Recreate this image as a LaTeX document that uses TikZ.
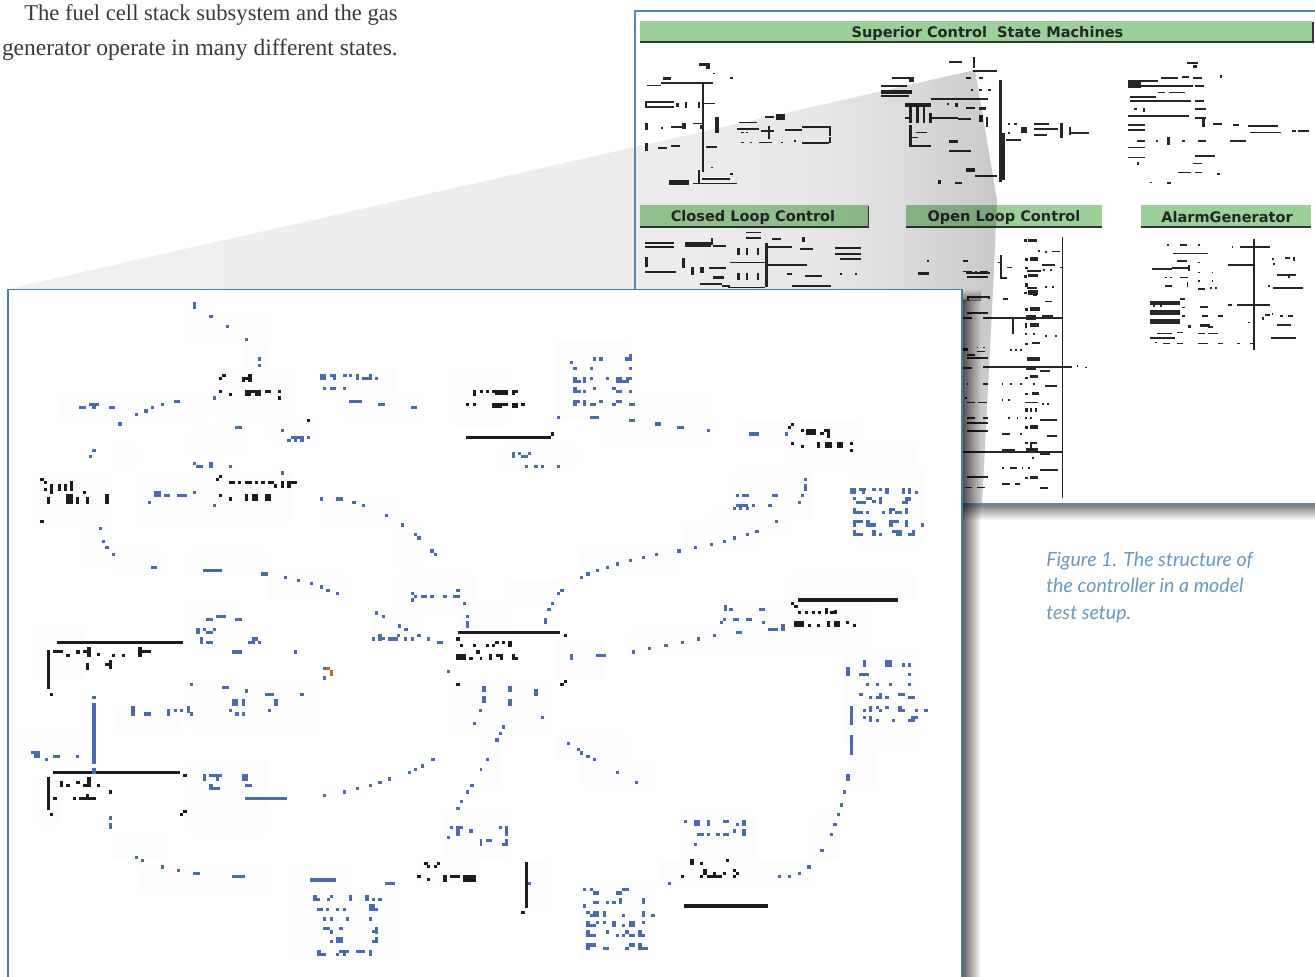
\documentclass[tikz,border=0pt]{standalone}
\usepackage{fontspec}
\setmainfont{Liberation Serif}
\newfontfamily\capfont{Lato}
\newfontfamily\headfont{DejaVu Sans}
\usetikzlibrary{positioning}
\definecolor{bluepix}{HTML}{4A6BAD}
\definecolor{inkpix}{HTML}{1C1C20}
\definecolor{backink}{HTML}{26262A}
\definecolor{panelline}{HTML}{5B88A8}
\definecolor{frontline}{HTML}{4A7E9E}
\definecolor{barfill}{HTML}{9DCF99}
\definecolor{barline}{HTML}{2E3A30}
\definecolor{capblue}{HTML}{6A98C2}
\definecolor{bodyink}{HTML}{3A3A3C}
\definecolor{noisefill}{HTML}{FCFDFC}
\definecolor{orangepix}{HTML}{C06A20}
\pgfdeclarehorizontalshading{wedgeshade}{100bp}{color(0bp)=(white!94!black); color(25bp)=(white!94!black); color(60bp)=(white!92.5!black); color(66bp)=(white!90.5!black); color(70bp)=(white!86.5!black); color(75bp)=(white!78.5!black); color(100bp)=(white!78.5!black)}
\newcommand{\rects}[4]{\begin{scope}[shift={(#2,#3)},x=.25pt,y=-.25pt]\foreach \a/\b/\c/\d in {#4}{\fill[#1] (\a,\b) rectangle ++(\c,\d);}\end{scope}}
\newcommand{\wideRects}[4]{\begin{scope}[shift={(#2,#3)},x=.3275pt,y=-.25pt]\foreach \a/\b/\c/\d in {#4}{\fill[#1] (\a,\b) rectangle ++(\c,\d);}\end{scope}}
\tikzset{
 bodytext/.style={text=bodyink,inner sep=0pt,anchor=base east},
 captext/.style={font=\capfont\itshape\fontsize{14.7pt}{18pt}\selectfont,text=capblue,inner sep=0pt,anchor=base west},
 headtext/.style={font=\headfont\bfseries\fontsize{10.9pt}{12pt}\selectfont,text=black!85,inner sep=0pt},
 greenbar/.style={fill=barfill,draw=none}
}
\begin{document}
\begin{tikzpicture}[x=.75pt,y=-.75pt]
\useasboundingbox (0,0) rectangle (1315,976);
\fill[white] (0,0) rectangle (1315,976);
\node[bodytext,font=\fontsize{16.95pt}{18pt}\selectfont] (introa) at (398,20) {The fuel cell stack subsystem and the gas};
\node[bodytext,font=\fontsize{17.6pt}{18pt}\selectfont] (introb) at (398,55) {generator operate in many different states.};
% back panel
\fill[white] (635,11) rectangle (1316,503);
% green bars
\fill[greenbar] (640,21) rectangle (1312,42);
\fill[barline] (640,41) rectangle (1313,43);
\fill[barline] (1312,22) rectangle (1313.5,43);
\fill[greenbar] (640,205) rectangle (868,227);
\fill[barline] (640,226) rectangle (869,228);
\fill[barline] (867.5,206) rectangle (869,228);
\fill[greenbar] (906,205) rectangle (1102,227);
\fill[barline] (906,226) rectangle (1102,228);
\fill[greenbar] (1141,205) rectangle (1311,227);
\fill[barline] (1141,226) rectangle (1311,228);
\node[headtext] (htop) at (987.5,33) {Superior Control\ \ State Machines};
\node[headtext] (hclosed) at (753,217) {Closed Loop Control};
\node[headtext] (hopen) at (1004,217) {Open Loop Control};
\node[headtext] (halarm) at (1227,217) {AlarmGenerator};
% back diagrams, from the upper view
\wideRects{backink}{630}{0}{158/190/25/8,175/198/8/8,190/218/5/5,230/232/6/6,75/232/20/8,40/255/30/4,70/247/120/4,165/250/5/265,
35/303/65/5,35/318/65/6,35/303/5/20,105/310/8/12,125/305/5/18,155/305/5/18,170/308/25/5,
35/368/6/22,70/380/6/6,95/378/25/6,120/368/8/20,145/368/20/5,160/375/8/12,195/350/8/50,
250/365/40/5,245/385/50/5,310/348/20/5,335/342/20/18,315/378/5/40,300/390/30/5,
355/388/40/4,395/378/65/6,455/378/6/30,255/395/5/5,265/395/5/5,
255/425/5/5,275/425/5/5,295/425/30/5,345/425/5/5,375/420/5/5,395/425/60/6,455/410/5/20,
35/430/6/22,65/440/20/6,95/435/20/6,175/438/25/5,
155/510/6/40,165/535/65/5,145/548/100/5,90/540/45/15,185/500/5/5,230/520/5/5,
730/183/30/5,785/170/6/35,785/210/55/5,600/232/50/5,640/235/10/10,575/255/60/5,575/270/70/12,575/285/65/5,690/295/90/6,780/295/40/5,
630/310/60/12,640/320/6/50,655/320/6/50,670/320/6/50,685/340/6/30,630/350/12/6,690/350/60/6,
770/230/10/8,800/232/8/5,780/268/6/5,800/268/6/5,820/268/6/5,
725/310/5/5,745/310/5/12,770/322/20/5,800/322/15/8,
750/355/30/6,800/345/8/20,815/350/5/30,
845/240/6/305,850/400/8/140,860/418/35/6,
640/375/6/60,655/395/25/5,640/410/20/5,640/435/50/5,
730/420/20/10,730/450/50/6,
770/505/20/10,790/525/50/6,
865/368/6/6,880/368/6/6,865/395/6/6,895/380/15/20,925/370/35/6,925/385/55/6,925/403/30/5,985/368/6/45,1005/380/6/25,1005/395/45/6,
705/540/8/12,745/545/15/6,
1275/185/25/8,1290/195/8/8,1350/225/5/8,1215/232/40/5,1265/228/15/5,1290/232/20/5,1140/240/70/6,1140/245/30/20,1170/255/120/5,1295/255/20/5,
1145/288/60/5,1210/275/15/5,1235/275/35/5,1145/300/140/5,1295/300/20/5,1155/325/5/5,1175/325/5/10,1295/325/25/5,
1140/345/140/6,1295/350/25/6,1310/355/6/25,1335/370/20/5,1380/372/15/5,
1140/372/40/5,1140/388/40/5,1160/420/20/5,1205/420/5/5,1230/410/6/25,1265/420/5/5,1300/420/20/5,1375/420/35/5,
1140/440/40/5,1140/470/40/5,1160/485/5/10,1295/465/45/5,1290/488/20/5,
1255/515/30/5,1295/515/15/5,1345/520/5/5,1190/545/5/5,1230/545/8/8,
1415/375/70/6,1420/395/70/5,1515/390/10/5,1530/390/25/6,
265/695/35/5,265/712/35/5,35/725/65/6,35/738/65/6,125/725/60/15,185/715/6/20,190/735/30/6,
245/745/6/20,265/745/6/20,290/745/6/20,310/730/6/130,310/738/60/5,325/715/20/5,395/710/6/15,390/745/30/5,
470/740/60/6,470/760/60/6,480/775/50/5,
35/770/6/30,35/812/70/6,120/775/6/30,140/800/6/25,160/800/10/20,180/800/40/6,228/785/85/5,
315/792/90/6,190/828/25/10,245/820/6/20,265/820/6/20,290/820/6/20,
160/850/50/6,210/855/20/6,225/860/85/5,370/855/90/6,
360/820/10/5,400/825/40/5,480/820/5/5,515/820/5/5,
660/815/25/10,770/815/55/6,768/780/5/5,680/780/5/5}
\rects{backink}{950}{200}{335/110/5/785,222/118/8/8,235/118/25/8,265/150/6/6,285/152/6/6,305/152/25/5,40/180/6/6,
150/165/6/70,145/185/10/5,170/200/15/5,150/232/20/5,
225/175/8/8,240/172/25/10,225/200/8/8,232/210/40/5,275/192/40/6,280/208/6/6,300/208/6/6,330/200/5/5,
40/212/25/5,75/212/5/5,90/212/25/5,50/228/65/6,
222/225/8/8,235/222/30/10,225/250/8/10,230/260/30/6,285/258/6/6,305/258/6/6,
222/275/8/8,235/270/30/14,250/282/10/6,
50/288/70/6,50/288/6/12,115/288/6/10,160/295/15/5,285/302/20/5,
225/325/8/8,240/322/30/10,
50/335/65/6,100/350/235/6,35/350/30/6,228/345/30/15,275/345/35/8,
185/355/6/48,225/370/6/15,240/370/28/12,
225/400/6/6,250/400/6/6,285/405/6/6,315/405/6/6,
225/428/8/8,245/425/25/8,180/447/6/6,195/447/6/6,210/447/6/6,
40/445/15/8,50/462/25/6,80/452/25/5,80/440/5/5,100/440/5/5,
50/472/65/6,230/472/40/10,
35/500/30/6,100/499/265/6,380/495/5/5,405/500/5/5,228/500/30/10,270/510/30/5,
225/530/8/8,240/525/25/10,
50/550/5/5,100/548/15/6,155/550/5/5,180/550/5/5,210/550/5/5,250/550/6/6,285/555/35/5,
225/578/8/8,245/575/22/10,
45/590/6/6,50/605/25/5,85/605/25/5,155/597/5/5,175/597/5/5,225/605/40/5,275/610/6/6,290/610/6/6,
225/625/8/10,240/625/6/12,255/625/6/12,
50/650/25/6,100/650/15/6,175/652/5/5,200/652/5/5,225/652/5/5,240/652/5/5,270/658/50/5,
225/678/8/10,240/675/25/12,
50/665/65/6,50/690/65/6,155/700/25/5,210/700/5/5,290/705/30/5,
225/725/8/8,240/725/20/6,240/725/6/25,35/752/300/6,155/748/40/6,228/745/35/14,270/760/30/5,
245/772/6/6,155/802/8/5,180/802/20/5,215/802/5/5,235/802/5/5,270/808/55/5,
225/830/8/6,240/828/25/10,
50/828/65/6,45/860/20/5,80/860/25/5,155/850/25/5,195/850/15/5,270/862/25/5,
650/132/6/6,690/132/20/6,745/132/6/6,670/158/105/5,
680/180/30/5,745/185/5/5,605/205/60/6,665/200/50/6,715/195/5/18,
645/230/5/5,660/230/5/5,690/230/25/5,745/215/5/5,785/215/5/5,745/240/5/5,785/240/5/5,
645/255/20/5,710/245/5/15,745/265/20/5,780/262/5/5,795/262/5/5,
600/302/90/14,600/330/90/14,600/358/90/14,610/316/5/5,630/316/5/5,690/295/15/5,695/320/10/5,695/345/10/5,715/375/8/8,
620/398/45/5,600/412/75/6,680/395/20/5,615/425/5/5,640/428/20/5,680/428/20/5,
750/318/25/5,755/345/20/5,805/345/15/5,750/372/30/8,775/378/15/5,745/398/20/5,775/398/30/5,745/428/30/5,805/428/15/5,860/428/10/5,
908/118/6/332,870/138/90/6,845/138/5/5,
835/193/75/6,835/312/10/5,860/312/100/6,895/365/5/5,900/428/10/5,
965/175/8/5,970/190/5/5,1005/172/15/5,1030/172/5/12,
982/222/55/6,1015/228/5/6,
955/255/5/5,968/262/90/6,
935/350/6/10,945/342/15/5,965/340/5/5,990/345/8/5,1015/345/15/5,
982/372/40/5,962/410/75/6}
% grey wedge joining the two views
\begin{scope}[blend mode=multiply]
\shade[shading=wedgeshade] (8,289) -- (975,70) -- (997,200) -- (993,290) -- (982,505) -- (8,505) -- cycle;
\end{scope}
% back panel outline
\draw[panelline,line width=1.5pt] (1316,11) -- (635,11) -- (635,289);
\draw[panelline,line width=1.7pt] (962,504) -- (1316,504);
% shadows
\begin{scope}[blend mode=multiply]
\shade[top color=black!50,bottom color=white] (962,505) rectangle (1316,520);
\shade[left color=black!64,right color=white] (962,300) rectangle (981,976);
\shade[top color=white,bottom color=black!45] (962,289) rectangle (981,300);
\end{scope}
% front panel
\fill[white] (8,289) rectangle (962,977);
\foreach \a/\b/\c/\d in {191/292/25/25,191/315/75/28,243/340/25/50,216/368/78/50,60/393/150/25,320/368/75/25,346/393/78/25,270/418/50/25,191/430/50/25,112/445/25/25,34/472/78/50,138/472/50/50,191/472/100/50,320/497/78/25,398/525/25/40,86/522/25/45,112/550/50/25,191/550/75/25,268/575/78/25,398/575/78/35,372/610/50/25,190/600/50/50,34/630/50/50,190/680/130/50,115/705/65/25,10/735/75/25,190/760/78/50,190/810/75/25,34/780/25/45,112/835/50/25,140/865/130/25,295/865/50/25,295/890/105/70,
455/368/50/60,555/340/75/80,606/395/105/50,502/445/75/25,738/420/125/25,790/445/125/25,735/470/78/50,850/470/75/75,710/510/75/25,685/525/75/25,580/550/100/25,510/580/50/25,460/600/50/35,790/575/125/25,720/600/150/50,630/630/150/25,555/640/50/40,450/680/100/50,480/730/20/60,555/735/75/25,580/760/75/25,845/655/75/90,850/730/25/60,815/810/25/50,680/815/75/50,660/860/150/25,580/885/75/75,445/810/65/50,420/860/60/25,525/860/25/50}
{\fill[noisefill] (\a,\b) rectangle ++(\c,\d);}
\draw[frontline,line width=1.2pt] (8,977) -- (8,289.5) -- (962,289.5) -- (962,977);
% dark fragments
\rects{inkpix}{0}{280}{666/282/12/9,657/291/9/9,726/291/30/9,744/282/12/24,726/300/9/6,657/330/9/9,687/339/9/9,735/330/18/18,753/330/30/9,765/339/18/9,795/330/18/9,834/330/9/9,834/348/9/12,921/417/9/9,
120/594/12/9,132/603/9/9,150/612/9/30,132/624/9/9,174/612/9/21,192/612/9/21,210/603/9/30,141/651/9/21,198/642/21/30,228/651/9/21,258/651/9/21,315/642/12/30,249/633/9/9,120/720/12/9,
657/585/9/9,648/594/9/9,687/603/18/9,714/603/9/9,735/603/21/9,765/603/9/9,783/603/12/9,804/603/18/9,822/612/9/12,843/603/9/21,861/603/30/9,861/612/12/12,657/642/9/9,687/651/9/12,735/642/9/21,756/642/18/21,795/642/18/21,
1419/330/9/18,1398/369/9/9,1419/369/9/9,1398/468/42/9}
\rects{inkpix}{480}{330}{0/180/8/8,18/180/8/8,36/180/20/8,45/188/12/8,57/180/27/16,96/180/18/8,96/188/9/8,36/220/30/15,66/220/18/8,96/220/18/15,123/220/12/8,0/318/213/9,213/306/9/12,
954/804/300/12,933/816/9/9,942/825/12/9,954/843/9/9,975/843/9/9,996/843/9/9,1014/843/9/9,1035/834/9/18,1050/843/21/9,1062/840/9/12,
942/873/30/18,984/882/9/9,1011/882/9/9,1041/873/9/18,1062/873/18/18,1098/873/9/9,1119/882/9/9,
933/279/9/9,924/288/9/9,963/297/9/9,978/297/30/18,1020/306/12/9,1041/297/9/27,1032/297/18/9,933/336/9/9,963/345/9/9,1011/336/9/18,1035/336/21/18,1071/336/18/18,1110/336/9/9,1110/357/9/9,
0/903/240/9,252/912/9/9,18/942/9/9,36/942/9/9,45/933/12/9,66/933/9/9,84/933/12/18,27/972/9/18,48/972/18/9,60/972/9/18,96/972/9/18}
\rects{inkpix}{0}{600}{171/122/378/10,141/150/9/118,159/150/30/9,198/162/12/9,228/150/12/12,249/150/12/9,261/141/12/30,291/159/9/9,336/162/9/9,366/162/9/9,414/141/12/30,426/150/27/9,258/189/9/21,315/189/12/9,327/180/9/27,150/279/9/9,
159/513/381/9,141/531/9/99,180/543/9/18,198/552/12/9,228/543/12/9,249/552/12/9,261/531/12/30,291/552/9/9,159/591/12/9,219/591/9/9,237/591/50/9,258/582/9/9,327/570/9/12,549/522/12/9,150/639/9/9,540/639/9/9,549/630/12/9,
1374/93/66/9,1368/112/12/12,1380/132/9/9,1419/132/9/9,1428/150/12/12,1368/162/30/18,1407/171/12/9,1368/249/12/9,
1272/786/12/9,1281/795/9/9,1311/786/9/9,1302/795/9/9,1251/825/12/9,1281/834/9/9,1329/825/12/21,1350/825/30/9,1389/825/39/21}
\rects{inkpix}{480}{640}{135/666/9/138,123/813/12/9,612/792/252/12,240/129/12/9,252/120/9/9,105/51/9/9,0/51/6/9,
630/657/12/18,660/666/9/9,738/657/9/9,669/687/12/18,681/705/45/9,699/696/9/9,729/696/9/9,759/687/9/9,768/696/9/9,759/705/9/9,603/705/9/9,660/705/9/9}
% blue fragments
\rects{bluepix}{0}{280}{579/67/10/20,627/105/12/10,678/135/10/9,734/174/10/9,774/232/10/11,774/252/10/9,960/282/18/18,990/282/18/8,1000/290/8/10,1030/282/10/8,1048/282/8/8,1068/282/9/18,1087/292/30/8,1107/282/8/10,1125/292/10/8,968/321/10/9,990/321/18/9,1030/321/8/9,1047/360/40/9,1134/369/21/9,1233/378/19/9,522/360/19/9,267/369/30/9,277/378/10/9,237/378/20/9,327/378/19/9,483/369/9/9,453/378/9/9,432/388/12/11,405/399/9/9,639/348/9/11,354/427/12/11,705/438/21/9,843/447/9/9,873/468/40/9,861/477/11/9,882/477/9/9,900/477/11/9,921/468/9/9,276/507/12/9,267/525/9/9,579/546/9/9,588/555/21/9,627/546/12/18,687/555/9/9,843/573/9/12,462/633/21/18,492/642/18/9,531/642/30/9,579/633/9/9,444/663/9/9,639/672/9/9,960/651/9/12,1008/651/21/12,1056/663/12/9,1086/672/9/9,1155/702/9/9,1203/729/9/12,1242/759/9/9,1251/768/12/12,1290/807/12/12,1302/819/9/9,297/741/9/9,306/780/9/9,315/798/12/9,336/819/9/9,453/858/18/9,609/867/57/9,783/876/21/12,852/888/9/9,891/897/9/9,930/906/9/9,960/915/9/12,978/927/12/9,1008/936/9/9,1233/936/9/9,1242/945/9/9,1233/954/9/12,1263/945/18/9,1290/945/12/9,1329/945/12/9,1359/945/21/9,1368/927/12/9,1389/966/9/9}
\rects{bluepix}{480}{330}{447/72/9/9,435/81/21/12,339/81/9/12,357/81/12/12,270/93/9/9,279/111/12/9,330/111/9/9,447/111/9/9,
279/141/12/18,291/150/12/9,309/141/9/18,330/141/9/9,378/141/9/9,408/141/18/18,426/150/21/9,438/141/18/9,
279/171/12/18,291/180/12/9,309/180/9/9,339/171/9/9,396/171/12/9,408/180/18/9,447/180/9/9,
279/210/21/9,279/219/12/9,309/210/9/18,330/219/18/9,357/210/12/9,396/219/12/9,408/210/18/9,447/219/18/9,
231/258/9/9,330/258/27/9,447/267/18/9,525/276/18/12,591/288/21/9,681/297/9/9,807/306/30/12,915/306/9/12,
96/366/9/18,114/366/9/9,123/375/21/9,144/366/9/9,135/405/9/9,162/405/12/9,183/405/9/9,231/405/9/9,
972/444/9/9,972/462/9/21,963/492/9/9,954/513/9/9,768/492/9/9,786/492/21/9,876/492/18/9,768/522/36/9,759/531/9/9,777/531/9/9,798/531/9/9,816/522/9/9,864/522/12/9,885/570/9/9,
825/600/12/9,798/609/9/9,759/618/9/12,729/630/9/9,690/639/9/9,642/648/9/9,591/657/12/12,525/669/9/9,486/678/9/9,447/687/9/9,408/696/9/12,378/708/9/9,348/717/9/9,318/726/12/12,300/738/9/9,240/777/12/9,231/786/9/9,213/816/9/9,201/834/12/9,192/864/9/18,
1110/474/18/18,1137/474/21/9,1146/483/9/9,1176/474/12/9,1197/474/9/9,1215/474/12/18,1266/474/9/18,1284/474/9/18,1305/483/9/9,
1119/501/9/9,1128/513/30/9,1158/501/18/9,1176/510/12/9,1197/501/9/21,1266/513/18/9,1275/501/18/12,
1119/534/9/18,1128/543/21/9,1158/543/9/9,1206/543/9/9,1227/534/9/18,1236/534/9/9,1245/543/21/9,1275/534/9/18,
1119/570/9/21,1128/570/21/9,1158/570/12/21,1170/579/18/12,1227/570/12/21,1239/570/18/9,1275/570/9/21,1323/579/9/12,
1119/600/9/18,1128/609/21/9,1176/600/12/18,1197/609/9/9,1236/600/30/9,1248/609/18/9,1284/609/21/9,1296/600/9/9,
733/825/9/18,747/834/12/9,837/834/18/9,729/864/9/9,720/873/9/9,759/864/18/9,798/864/18/9,846/873/9/9,864/894/30/9,903/882/12/21,768/903/18/9,
699/912/9/9,651/921/9/12,603/933/9/9,552/942/12/9,504/951/9/9,456/960/9/12,270/972/9/18,348/972/30/9}
\rects{bluepix}{0}{600}{276/288/12/9,276/309/12/183,276/504/12/18,648/45/30/9,618/54/21/9,705/54/21/9,
588/84/12/18,609/84/9/9,618/93/21/9,639/84/9/9,600/111/9/21,618/123/21/9,696/150/30/12,882/150/9/12,744/123/21/9,756/111/18/12,774/123/9/9,
570/249/9/9,666/258/21/9,735/267/9/12,795/279/27/9,900/279/12/9,
696/297/18/21,726/297/9/21,822/297/12/21,687/327/9/9,705/336/12/12,726/336/9/12,804/327/9/9,
393/318/12/30,432/336/21/12,501/327/9/21,522/327/9/9,540/327/9/9,561/318/9/21,570/336/9/12,
93/453/9/9,102/453/18/21,135/474/9/9,159/465/21/9,228/465/9/9,
609/522/9/21,627/522/39/9,648/531/9/12,726/522/18/21,627/552/12/18,639/561/21/9,735/552/21/9,735/591/126/9,
1116/111/9/12,1134/102/12/21,1146/111/9/9,1164/111/30/12,1191/102/9/9,1212/111/9/12,1233/111/9/12,1251/102/12/9,1281/111/9/12,1311/123/18/9,
1125/33/9/12,1146/45/9/9,1194/72/9/12,1212/84/12/9,1389/6/9/9,1233/0/9/6,1398/45/9/9,1398/63/9/21,
1341/210/9/9,1419/366/9/9,1437/327/3/9,
1293/474/12/9,1263/492/9/12,1242/504/9/9,1224/513/9/9,1164/531/9/12,1134/543/12/9,1107/552/9/9,1068/561/9/9,1029/570/9/12,969/582/9/9,
1410/552/12/9,1398/570/9/12,1380/600/9/9,1368/621/12/9,1350/678/9/9,1368/678/12/30,1380/678/9/9,1407/687/12/12,1341/708/9/9,
327/648/9/12,327/669/9/18,405/768/9/9,423/777/9/9,483/795/9/12,531/807/9/9,579/816/21/9,696/825/39/9,
930/834/78/12,1155/846/30/9,
939/885/12/18,951/894/9/9,981/894/9/9,990/885/9/9,1047/885/9/18,1095/885/12/18,1116/894/9/9,1134/894/12/9,
951/924/18/9,978/924/9/9,1008/924/9/9,1029/924/9/9,1107/912/18/21,1125/924/9/9,
969/951/9/12,990/951/9/12,1038/951/9/12,1107/951/9/12,
969/981/21/9,990/990/9/12,1017/981/12/9,1125/981/9/21,1116/990/9/9,
990/1020/9/9,1008/1011/21/18,1125/1011/9/18,1116/1020/9/9,
951/1050/12/18,963/1059/15/9,1008/1059/9/9,1017/1050/30/9,1029/1059/9/9,1068/1050/27/9,1107/1050/9/18,
969/201/9/9,969/228/9/12}
\rects{orangepix}{0}{600}{978/201/12/9,990/210/9/18}
\rects{bluepix}{480}{640}{6/138/12/18,84/138/12/18,162/147/12/21,6/168/12/21,84/177/12/21,0/207/6/9,183/228/9/9,66/255/9/12,57/276/9/9,45/294/12/12,18/354/9/9,0/384/6/9,
261/306/9/9,291/324/9/9,300/333/9/12,318/345/12/9,339/354/9/9,408/393/9/9,465/423/9/9,
1098/81/12/27,1149/60/9/21,1215/60/21/21,1266/69/9/12,1284/69/9/12,1137/99/30/9,1284/99/9/9,
1158/129/9/9,1188/129/9/9,1227/129/9/9,1284/129/9/9,
1137/159/12/9,1167/168/9/9,1188/168/18/9,1197/159/9/18,1215/168/12/9,1254/159/21/9,1284/168/21/9,
1110/198/9/57,1149/207/9/9,1167/198/9/18,1188/198/9/9,1197/207/9/9,1215/198/12/9,1254/198/12/18,1266/207/9/9,1305/207/9/9,1332/207/12/9,
1149/228/9/9,1167/228/9/18,1188/237/9/9,1236/237/9/9,1293/228/21/9,1284/237/21/9,
1110/285/9/60,1098/402/12/21,1089/450/9/12,1080/489/9/12,1071/519/9/9,1059/549/12/9,1050/579/9/9,1020/627/12/9,981/675/12/12,954/696/9/9,924/705/9/9,894/705/9/9,
612/540/9/9,642/540/18/18,681/540/9/18,729/540/18/9,768/549/9/9,786/540/12/18,
651/579/21/9,681/579/9/9,708/579/12/9,729/579/18/9,759/567/9/12,786/567/12/21,642/609/9/9,564/726/9/9,144/726/9/9,
57/558/9/9,75/558/9/30,0/597/6/21,18/597/18/9,75/597/9/21,66/609/9/9,
309/744/9/9,330/744/9/9,426/744/21/9,339/753/18/12,408/753/18/12,
339/783/18/9,378/783/9/9,396/783/12/9,417/774/9/18,486/774/9/18,309/792/9/12,
318/813/12/9,330/822/9/9,339/813/18/18,369/813/9/18,426/822/9/9,486/813/9/18,513/822/12/9,
318/843/12/18,330/852/18/9,348/843/9/9,369/843/9/9,396/843/12/18,426/852/9/9,447/843/18/18,486/843/9/9,
318/870/12/21,330/882/18/9,378/870/9/12,408/882/9/9,426/882/9/9,435/870/12/12,447/882/18/9,474/870/12/21,486/882/9/9,
318/909/12/21,330/909/18/12,369/921/18/9,435/921/12/9,447/909/18/12,474/909/12/21,486/921/18/9}
% caption
\node[captext] (capa) at (1046,566) {Figure 1. The structure of};
\node[captext] (capb) at (1046,592) {the controller in a model};
\node[captext] (capc) at (1046,619) {test setup.};
\end{tikzpicture}
\end{document}
